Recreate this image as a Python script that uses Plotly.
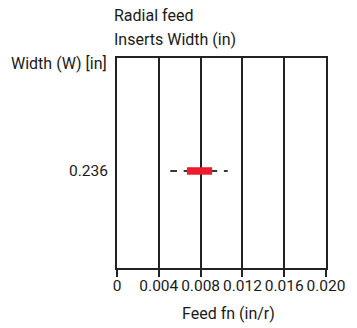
import plotly.graph_objects as go

# Radial feed range for a 0.236 in wide insert
widths = ["0.236"]
feed_min = [0.0051]
feed_max = [0.0106]
rec_low = [0.0067]
rec_high = [0.0091]
tick_vals = [0, 0.004, 0.008, 0.012, 0.016, 0.020]
tick_text = ["0", "0.004", "0.008", "0.012", "0.016", "0.020"]

FONT = "Roboto, sans-serif"
TXT = "#1a1a1a"
H = 328
PLOT_LEFT, PLOT_RIGHT = 117, 333
PLOT_TOP, PLOT_BOTTOM = 58, 268
PW = PLOT_RIGHT - PLOT_LEFT

fig = go.Figure()

# full feed range as a dashed line
for w, lo, hi in zip(widths, feed_min, feed_max):
    fig.add_trace(go.Scatter(
        x=[lo, hi], y=[w, w], mode="lines",
        line=dict(color="#3a3a3a", width=2, dash="6.7px,6.7px"),
        hoverinfo="skip", showlegend=False,
    ))

# recommended feed range as a solid red band on top
for w, lo, hi in zip(widths, rec_low, rec_high):
    fig.add_trace(go.Scatter(
        x=[lo, hi], y=[w, w], mode="lines",
        line=dict(color="#ec1c2e", width=7.5),
        hoverinfo="skip", showlegend=False,
    ))

fig.update_xaxes(
    range=[0, 0.020],
    tickvals=tick_vals, ticktext=tick_text,
    showgrid=True, gridcolor="#222222", gridwidth=1.6,
    zeroline=False,
    showline=True, linecolor="#222222", linewidth=2, mirror=True,
    ticks="outside", ticklen=7, tickwidth=1.6, tickcolor="#222222",
    ticklabelstandoff=-5,
    tickfont=dict(family=FONT, size=15.5, color=TXT),
)
fig.update_yaxes(
    type="category",
    range=[-0.462, 0.538],
    showgrid=False, zeroline=False,
    showline=True, linecolor="#222222", linewidth=2, mirror=True,
    ticks="", ticklabelstandoff=4,
    tickfont=dict(family=FONT, size=15.5, color=TXT),
)


def px(x_px):
    """Convert a pixel column to paper coordinates of the plot area."""
    return (x_px - PLOT_LEFT) / PW


def py(y_px):
    """Convert a pixel row to paper coordinates of the plot area."""
    return (PLOT_BOTTOM - y_px) / (PLOT_BOTTOM - PLOT_TOP)


def label(text, x, y, xanchor):
    return dict(text=text, xref="paper", yref="paper", x=px(x), y=py(y),
                xanchor=xanchor, yanchor="middle", showarrow=False,
                font=dict(family=FONT, size=16, color=TXT))


fig.update_layout(
    width=357, height=H,
    margin=dict(l=PLOT_LEFT, r=357 - PLOT_RIGHT, t=PLOT_TOP, b=H - PLOT_BOTTOM),
    paper_bgcolor="white", plot_bgcolor="white",
    annotations=[
        label("Radial feed", 112, 15, "left"),
        label("Inserts Width (in)", 112, 39, "left"),
        label("Width (W) [in]", 109, 63, "right"),
        label("Feed fn (in/r)", 232, 313, "center"),
    ],
)

fig.write_html("out.html")
